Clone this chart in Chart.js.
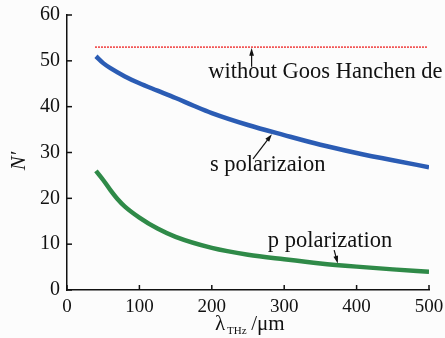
<!DOCTYPE html>
<html>
<head>
<meta charset="utf-8">
<script src="https://cdn.jsdelivr.net/npm/chart.js@4"></script>
<style>
  html, body { margin: 0; padding: 0; background: #fcfcfc; }
  #wrap { width: 445px; height: 338px; }
</style>
</head>
<body>
<div id="wrap"><canvas id="chart"></canvas></div>
<script>
// wavelength (um) and N'
var sWavelength = [40, 50, 60, 80, 100, 125, 150, 175, 200, 250, 300, 350, 400, 450, 500];
var sPolarN = [51.0, 49.5, 48.4, 46.6, 45.1, 43.5, 41.9, 40.2, 38.6, 36.0, 33.8, 31.7, 29.9, 28.3, 26.8];

var pWavelength = [40, 50, 60, 70, 80, 100, 125, 150, 200, 250, 300, 350, 400, 450, 500];
var pPolarN = [26.0, 24.0, 21.8, 19.8, 18.2, 15.8, 13.4, 11.6, 9.2, 7.7, 6.7, 5.8, 5.1, 4.5, 4.0];

// without Goos-Hanchen shift
var refWavelength = [39, 498];
var refN = [53, 53];

var xTicks = [0, 100, 200, 300, 400, 500];
var yTicks = [0, 10, 20, 30, 40, 50, 60];

var serif = '"Liberation Serif", "DejaVu Serif", serif';

function toPoints(xs, ys) {
    return xs.map(function(x, i) { return { x: x, y: ys[i] }; });
}

// text labels with arrows, in data coordinates
var notes = [
    { text: "without Goos Hanchen de", x: 195, y: 46.3, from: [255, 48.7], to: [255, 52.8] },
    { text: "s polarizaion", x: 197.5, y: 26.0, from: [257, 28.6], to: [283, 34.0] },
    { text: "p polarization", x: 277.4, y: 9.4, from: [369, 8.7], to: [374, 5.8] }
];

function arrow(ctx, x1, y1, x2, y2) {
    var a = Math.atan2(y2 - y1, x2 - x1);
    var len = 8;
    ctx.beginPath();
    ctx.moveTo(x1, y1);
    ctx.lineTo(x2 - Math.cos(a) * 4, y2 - Math.sin(a) * 4);
    ctx.stroke();
    ctx.beginPath();
    ctx.moveTo(x2, y2);
    ctx.lineTo(x2 - len * Math.cos(a - 0.3), y2 - len * Math.sin(a - 0.3));
    ctx.lineTo(x2 - len * Math.cos(a + 0.3), y2 - len * Math.sin(a + 0.3));
    ctx.closePath();
    ctx.fill();
}

var decor = {
    id: "decor",
    afterDraw: function(chart) {
        var ctx = chart.ctx;
        var xs = chart.scales.x, ys = chart.scales.y;
        var area = chart.chartArea;
        ctx.save();
        ctx.strokeStyle = "#111";
        ctx.fillStyle = "#111";
        ctx.lineWidth = 1.5;

        // inward tick marks
        xTicks.forEach(function(v) {
            var px = xs.getPixelForValue(v);
            ctx.beginPath();
            ctx.moveTo(px, area.bottom);
            ctx.lineTo(px, area.bottom - 5);
            ctx.stroke();
        });
        yTicks.forEach(function(v) {
            var py = ys.getPixelForValue(v);
            ctx.beginPath();
            ctx.moveTo(area.left, py);
            ctx.lineTo(area.left + 5, py);
            ctx.stroke();
        });

        // notes
        ctx.font = "22.5px " + serif;
        ctx.textBaseline = "alphabetic";
        ctx.textAlign = "left";
        ctx.lineWidth = 1.2;
        notes.forEach(function(n) {
            ctx.fillText(n.text, xs.getPixelForValue(n.x), ys.getPixelForValue(n.y));
            arrow(ctx,
                xs.getPixelForValue(n.from[0]), ys.getPixelForValue(n.from[1]),
                xs.getPixelForValue(n.to[0]), ys.getPixelForValue(n.to[1]));
        });

        // axis titles
        var cx = 215;
        ctx.font = "21px " + serif;
        ctx.fillText("\u03bb", cx, 330);
        ctx.font = "11px " + serif;
        ctx.fillText("THz", cx + 12, 334);
        ctx.font = "21px " + serif;
        ctx.fillText(" /\u03bcm", cx + 31, 330);

        ctx.translate(25, 161);
        ctx.rotate(-Math.PI / 2);
        ctx.textAlign = "center";
        ctx.font = "italic 21px " + serif;
        ctx.fillText("N\u2032", 0, 0);
        ctx.restore();
    }
};

new Chart(document.getElementById("chart"), {
    type: "line",
    data: {
        datasets: [{
            label: "without Goos Hanchen",
            data: toPoints(refWavelength, refN),
            borderColor: "#ee2222",
            borderWidth: 1.6,
            borderDash: [1.5, 1.5],
            pointRadius: 0
        }, {
            label: "s polarization",
            data: toPoints(sWavelength, sPolarN),
            borderColor: "#2b5cb4",
            borderWidth: 4.5,
            pointRadius: 0,
            cubicInterpolationMode: "monotone"
        }, {
            label: "p polarization",
            data: toPoints(pWavelength, pPolarN),
            borderColor: "#2f8a48",
            borderWidth: 4.5,
            pointRadius: 0,
            cubicInterpolationMode: "monotone"
        }]
    },
    options: {
        responsive: true,
        maintainAspectRatio: false,
        animation: false,
        layout: { padding: { top: 15, right: 16, left: 0, bottom: 0 } },
        plugins: {
            legend: { display: false },
            tooltip: { enabled: false }
        },
        scales: {
            x: {
                type: "linear",
                min: 0,
                max: 500,
                afterBuildTicks: function(scale) {
                    scale.ticks = xTicks.map(function(v) { return { value: v }; });
                },
                afterFit: function(scale) {
                    scale.height = 48;
                    scale.paddingLeft = 0;
                    scale.paddingRight = 0;
                },
                grid: { display: false, drawTicks: false },
                border: { display: true, color: "#111", width: 1.5 },
                ticks: { color: "#111", padding: 6, maxRotation: 0, font: { family: serif, size: 19 } }
            },
            y: {
                min: 0,
                max: 60,
                afterBuildTicks: function(scale) {
                    scale.ticks = yTicks.map(function(v) { return { value: v }; });
                },
                afterFit: function(scale) {
                    scale.width = 67;
                    scale.paddingTop = 0;
                    scale.paddingBottom = 0;
                },
                grid: { display: false, drawTicks: false },
                border: { display: true, color: "#111", width: 1.5 },
                ticks: { color: "#111", padding: 7, font: { family: serif, size: 20 } }
            }
        }
    },
    plugins: [decor]
});
</script>
</body>
</html>
